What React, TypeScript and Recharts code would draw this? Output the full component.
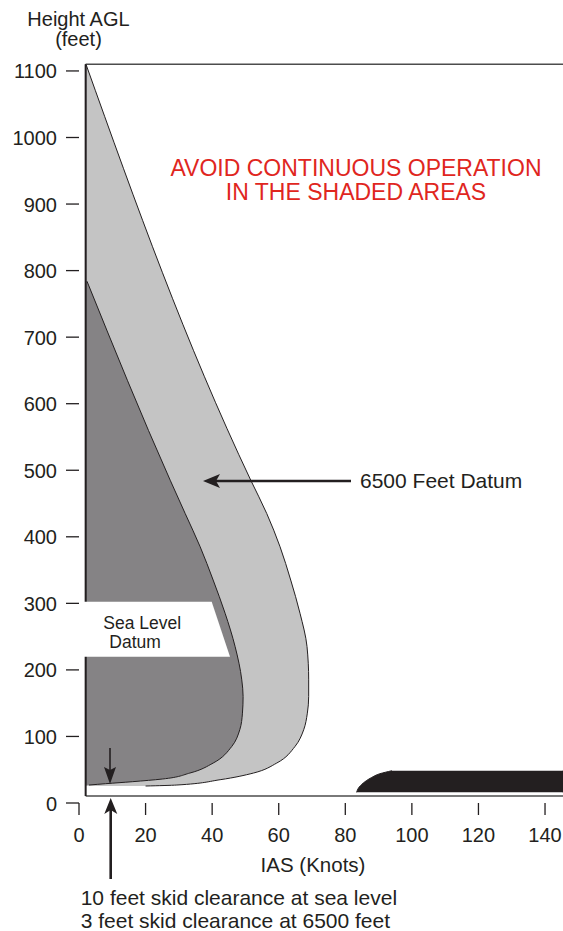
import React from 'react';
import { ComposedChart, Area, XAxis, YAxis, ReferenceLine } from 'recharts';

// axis ticks
const iasTicks = [0, 20, 40, 60, 80, 100, 120, 140];
const heightTicks = [0, 100, 200, 300, 400, 500, 600, 700, 800, 900, 1000, 1100];

// 6500 ft datum boundary (light grey), height in ft and IAS in knots
const datum6500Ft = [25.5, 27, 35, 45, 60, 85, 110, 135, 160, 185, 235, 285, 335, 385, 435, 485, 1110];
const datum6500Knots = [20, 29.4, 42.4, 52.4, 59.4, 64.9, 67.5, 68.6, 69.0, 69.0, 68.5, 66.4, 63.6, 60.4, 56.4, 51.6, 2.1];

// sea level datum boundary (dark grey)
const seaLevelFt = [27, 29, 32, 36, 45, 60, 85, 110, 135, 160, 185, 235, 285, 335, 385, 435, 485, 784];
const seaLevelKnots = [3, 8, 16, 25, 33.3, 40.3, 45.9, 48.3, 49.1, 49.3, 48.9, 46.9, 43.9, 40.3, 36.4, 31.9, 27.4, 2.4];

// high speed / low height area (black)
const highSpeedFt = [16, 22, 30, 38, 44, 48.5];
const highSpeedKnots = [83.4, 83.9, 85.4, 87.8, 90.4, 94];

const X_MAX = 145.4;
const Y_MAX = 1120;
const FRAME_LEFT = 2;
const FRAME_TOP = 1110;
const FRAME_BOTTOM = 10.5;

const FONT = '"Liberation Sans", Arial, Helvetica, sans-serif';
const INK = '#231f20';

const datum6500Data = datum6500Ft.map((ft, i) => ({ ft, range: [FRAME_LEFT, datum6500Knots[i]] }));
const seaLevelData = seaLevelFt.map((ft, i) => ({ ft, range: [FRAME_LEFT, seaLevelKnots[i]] }));
const highSpeedData = highSpeedFt.map((ft, i) => ({ ft, range: [highSpeedKnots[i], X_MAX] }));

const YTick = ({ x, y, payload }: any) => (
  <g>
    <line x1={x - 13} x2={x} y1={y} y2={y} stroke={INK} strokeWidth={1.3} />
    <text x={x - 22} y={y + 7.5} textAnchor="end" fontSize={20} fill={INK} fontFamily={FONT}>
      {payload.value}
    </text>
  </g>
);

const XTick = ({ x, y, payload }: any) => (
  <g>
    <line x1={x} x2={x} y1={y} y2={y + 12} stroke={INK} strokeWidth={1.3} />
    <text x={x} y={y + 39} textAnchor="middle" fontSize={20} fill={INK} fontFamily={FONT}>
      {payload.value}
    </text>
  </g>
);

export default function App() {
  return (
    <div style={{ position: 'absolute', left: 0, top: 0, width: 563, height: 931, background: '#fff' }}>
      <ComposedChart
        width={563}
        height={931}
        layout="vertical"
        margin={{ top: 57.64, right: 0, left: 0, bottom: 78 }}
      >
        <XAxis
          type="number"
          domain={[0, X_MAX]}
          ticks={iasTicks}
          allowDataOverflow
          axisLine={false}
          tickLine={false}
          tickSize={0}
          tickMargin={0}
          height={50}
          tick={<XTick />}
        />
        <YAxis
          type="number"
          dataKey="ft"
          domain={[0, Y_MAX]}
          ticks={heightTicks}
          allowDataOverflow
          reversed
          axisLine={false}
          tickLine={false}
          tickSize={0}
          tickMargin={0}
          width={79}
          tick={<YTick />}
        />
        <Area
          data={datum6500Data}
          dataKey="range"
          type="monotone"
          fill="#c4c4c4"
          fillOpacity={1}
          stroke={INK}
          strokeWidth={1}
          dot={false}
          activeDot={false}
          isAnimationActive={false}
        />
        <Area
          data={seaLevelData}
          dataKey="range"
          type="monotone"
          fill="#858385"
          fillOpacity={1}
          stroke={INK}
          strokeWidth={1}
          dot={false}
          activeDot={false}
          isAnimationActive={false}
        />
        <Area
          data={highSpeedData}
          dataKey="range"
          type="monotone"
          fill={INK}
          fillOpacity={1}
          stroke={INK}
          strokeWidth={1}
          dot={false}
          activeDot={false}
          isAnimationActive={false}
        />
        <ReferenceLine
          segment={[{ x: FRAME_LEFT, y: FRAME_TOP }, { x: X_MAX, y: FRAME_TOP }]}
          stroke="#4d4d4d"
          strokeWidth={1.5}
        />
        <ReferenceLine
          segment={[{ x: FRAME_LEFT, y: FRAME_BOTTOM }, { x: X_MAX, y: FRAME_BOTTOM }]}
          stroke="#4d4d4d"
          strokeWidth={1.5}
        />
        <ReferenceLine
          segment={[{ x: FRAME_LEFT, y: FRAME_BOTTOM }, { x: FRAME_LEFT, y: FRAME_TOP }]}
          stroke={INK}
          strokeWidth={2}
        />
      </ComposedChart>

      {/* labels and arrows */}
      <svg
        width={563}
        height={931}
        style={{ position: 'absolute', left: 0, top: 0, pointerEvents: 'none' }}
        fontFamily={FONT}
      >
        <text x={78.5} y={26} textAnchor="middle" fontSize={20} fill={INK}>Height AGL</text>
        <text x={78.5} y={46} textAnchor="middle" fontSize={20} fill={INK}>(feet)</text>

        <text x={356} y={176} textAnchor="middle" fontSize={23} fill="#e0261e">AVOID CONTINUOUS OPERATION</text>
        <text x={356} y={200} textAnchor="middle" fontSize={23} fill="#e0261e">IN THE SHADED AREAS</text>

        <line x1={351} y1={481} x2={216} y2={481} stroke={INK} strokeWidth={2.6} />
        <polygon points="203,481 220,474 216,481 220,488" fill={INK} />
        <text x={360} y={488} fontSize={21} fill={INK}>6500 Feet Datum</text>

        <polygon points="84,601.7 211.7,601.7 230,656.7 84,656.7" fill="#fff" />
        <text x={103.3} y={628.5} fontSize={17.5} fill={INK}>Sea Level</text>
        <text x={109.3} y={647.5} fontSize={17.5} fill={INK}>Datum</text>

        <line x1={110} y1={748} x2={110} y2={772} stroke={INK} strokeWidth={1.6} />
        <polygon points="110,784 104,767 110,770 116,767" fill={INK} />

        <line x1={110.7} y1={879} x2={110.7} y2={810} stroke={INK} strokeWidth={2.6} />
        <polygon points="110.7,798 104.3,814 110.7,810 117.3,814" fill={INK} />

        <text x={313} y={872} textAnchor="middle" fontSize={20.5} fill={INK}>IAS (Knots)</text>
        <text x={80.7} y={905} fontSize={21} fill={INK}>10 feet skid clearance at sea level</text>
        <text x={80.7} y={928} fontSize={21} fill={INK}>3 feet skid clearance at 6500 feet</text>
      </svg>
    </div>
  );
}
